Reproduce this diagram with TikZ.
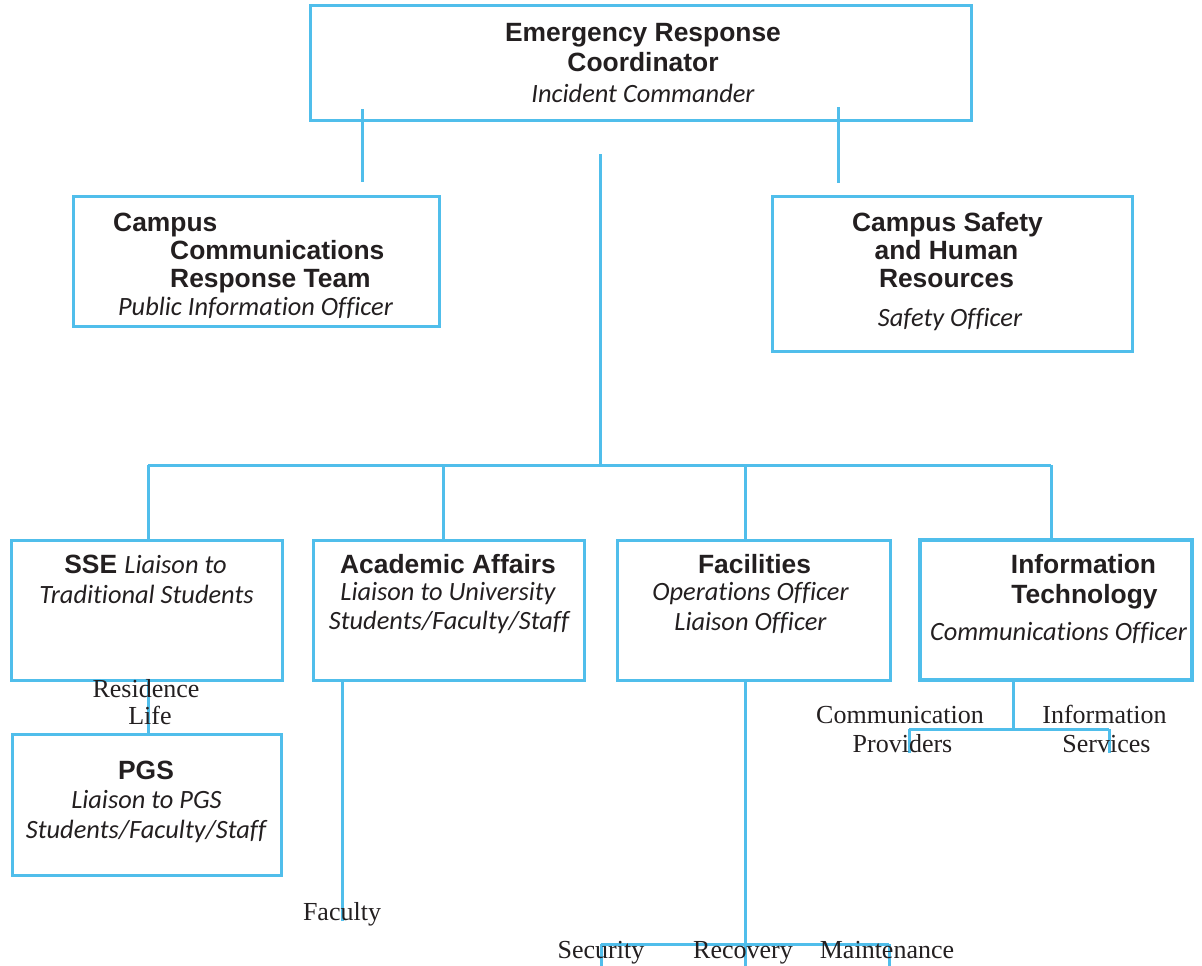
\documentclass[tikz,border=0pt]{standalone}
\usepackage{fontspec}
\setmainfont{Liberation Serif}
\newfontfamily\myhbfam{Liberation Sans}
\newfontfamily\mycifam[Ligatures=NoCommon]{Carlito}
\definecolor{lb}{RGB}{80,190,235}
\definecolor{tx}{RGB}{35,31,32}
\newcommand\myhb{\myhbfam\bfseries\fontsize{26.4}{30}\selectfont}
\newcommand\myci{\mycifam\mdseries\itshape\fontsize{26.4}{30}\selectfont}
\newcommand\mysr{\rmfamily\mdseries\upshape\fontsize{26}{30}\selectfont}
\begin{document}
\begin{tikzpicture}[x=1pt,y=-1pt,
  box/.style={draw=lb,line width=3pt,inner sep=0pt,rectangle},
  conn/.style={draw=lb,line width=3pt},
  tb/.style={anchor=base,inner sep=0pt,text=tx,font=\myhb},
  ti/.style={anchor=base,inner sep=0pt,text=tx,font=\myci},
  ts/.style={anchor=base,inner sep=0pt,text=tx,font=\mysr}]
\useasboundingbox (0,0) rectangle (1202,966);

% boxes
\node[box,minimum width=661pt,minimum height=114pt] (top) at (640.5,63) {};
\node[box,minimum width=366pt,minimum height=130pt] (pio) at (256,261) {};
\node[box,minimum width=360pt,minimum height=155pt] (saf) at (952,273.5) {};
\node[box,minimum width=271pt,minimum height=140pt] (sse) at (146.5,610) {};
\node[box,minimum width=271pt,minimum height=140pt] (aca) at (448.5,610) {};
\node[box,minimum width=273pt,minimum height=140pt] (fac) at (753.5,610) {};
\node[box,minimum width=272pt,minimum height=140pt,line width=4.5pt] (it) at (1056,610) {};
\node[box,minimum width=269pt,minimum height=141pt] (pgs) at (146.5,804.5) {};

% connector coordinates
\coordinate (l1a) at (362,109);
\coordinate (l1b) at (362,182);
\coordinate (r1a) at (838,107);
\coordinate (r1b) at (838,183);
\coordinate (ctop) at (600,154);
\coordinate (cbar) at (600,465);
\coordinate (b1) at (148,465);
\coordinate (b2) at (443,465);
\coordinate (b3) at (745,465);
\coordinate (b4) at (1051,465);
\coordinate (fa) at (342,921);
\coordinate (fj) at (745,944);
\coordinate (fl) at (601,944);
\coordinate (fr) at (889,944);
\coordinate (fl2) at (601,966);
\coordinate (fj2) at (745,966);
\coordinate (fr2) at (889,966);
\coordinate (ij) at (1013,729);
\coordinate (il) at (909,729);
\coordinate (ir) at (1109,729);
\coordinate (il2) at (909,753);
\coordinate (ir2) at (1109,753);

\draw[conn] (l1a) -- (l1b);
\draw[conn] (r1a) -- (r1b);
\draw[conn] (ctop) -- (cbar);
\draw[conn] (b1) -- (b4);
\draw[conn] (b1) -- (b1 |- sse.north);
\draw[conn] (b2) -- (b2 |- aca.north);
\draw[conn] (b3) -- (b3 |- fac.north);
\draw[conn] (b4) -- (b4 |- it.north);
\draw[conn] (b1 |- sse.south) -- (b1 |- pgs.north);
\draw[conn] (fa |- aca.south) -- (fa);
\draw[conn] (fj |- fac.south) -- (fj2);
\draw[conn] (fl) -- (fr);
\draw[conn] (fl) -- (fl2);
\draw[conn] (fr) -- (fr2);
\draw[conn] (ij |- it.south) -- (ij);
\draw[conn] (il) -- (ir);
\draw[conn] (il) -- (il2);
\draw[conn] (ir) -- (ir2);

% texts
\node[tb] (t1) at (643,42) {Emergency Response};
\node[tb] (t2) at (643,72) {Coordinator};
\node[ti] (t3) at (643,102) {Incident Commander};

\node[tb,anchor=base west] (p1) at (113,231) {Campus};
\node[tb,anchor=base west] (p2) at (170,259) {Communications};
\node[tb,anchor=base west] (p3) at (170,287) {Response Team};
\node[ti] (p4) at (255.5,315) {Public Information Officer};

\node[tb] (s1) at (947.5,231) {Campus Safety};
\node[tb] (s2) at (946.5,259) {and Human};
\node[tb] (s3) at (946.5,287) {Resources};
\node[ti] (s4) at (950,326) {Safety Officer};

\node[tb] (e1) at (145.5,573) {SSE {\myci Liaison to}};
\node[ti] (e2) at (146.5,603) {Traditional Students};

\node[tb] (a1) at (448,573) {Academic Affairs};
\node[ti] (a2) at (448,600) {Liaison to University};
\node[ti] (a3) at (449,629) {Students/Faculty/Staff};

\node[tb] (f1) at (754.5,573) {Facilities};
\node[ti] (f2) at (750.5,600) {Operations Officer};
\node[ti] (f3) at (750.5,630) {Liaison Officer};

\node[tb] (i1) at (1083.5,573) {Information};
\node[tb] (i2) at (1084.5,603) {Technology};
\node[ti] (i3) at (1058.5,640) {Communications Officer};

\node[tb] (g1) at (146,779) {PGS};
\node[ti] (g2) at (146.5,808) {Liaison to PGS};
\node[ti] (g3) at (146,838) {Students/Faculty/Staff};

\node[ts] (rl1) at (146,697) {Residence};
\node[ts] (rl2) at (150,724) {Life};
\node[ts] (fy) at (342,920) {Faculty};
\node[ts] (sec) at (601,958) {Security};
\node[ts] (rec) at (743,958) {Recovery};
\node[ts] (mai) at (887,958) {Maintenance};
\node[ts] (cp1) at (900,723) {Communication};
\node[ts] (cp2) at (902.5,752) {Providers};
\node[ts] (is1) at (1104.5,723) {Information};
\node[ts] (is2) at (1106.5,752) {Services};
\end{tikzpicture}
\end{document}
